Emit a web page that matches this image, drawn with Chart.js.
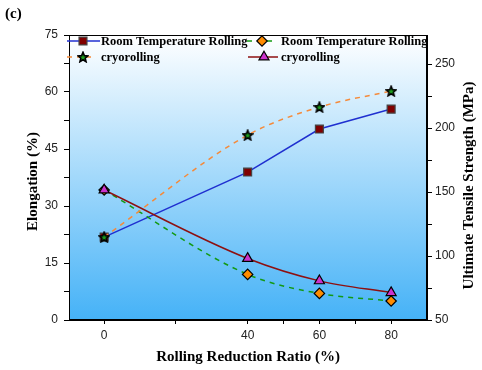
<!DOCTYPE html>
<html><head><meta charset="utf-8">
<script src="https://cdn.jsdelivr.net/npm/chart.js@4/dist/chart.umd.min.js"></script>
<style>html,body{margin:0;padding:0;background:#fff}#wrap{width:482px;height:370px}</style>
</head><body><div id="wrap"><canvas id="c" width="482" height="370"></canvas></div>
<script>
const reductionRatio = [0, 40, 60, 80];
const utsRoomTemp = [114.8, 165.6, 199.2, 214.8];
const elongRoomTemp = [34.2, 12.0, 7.0, 5.0];
const utsCryo = [114.8, 194.5, 216.4, 228.9];
const elongCryo = [34.2, 16.2, 10.3, 7.2];
const xTicks = [0, 20, 40, 50, 60, 70, 80];
const xLabelled = [0, 40, 60, 80];
const leftTicks = [0, 15, 30, 45, 60, 75];
const rightTicks = [50, 100, 150, 200, 250];
const seriesNames = ['Room Temperature Rolling', 'Room Temperature Rolling', 'cryorolling', 'cryorolling'];

function starImg() {
  const c = document.createElement('canvas');
  c.width = 12; c.height = 12;
  const g = c.getContext('2d');
  g.beginPath();
  for (let i = 0; i < 10; i++) {
    const r = i % 2 === 0 ? 5.2 : 2.3;
    const a = -Math.PI / 2 + i * Math.PI / 5;
    const px = 6 + r * Math.cos(a), py = 6.5 + r * Math.sin(a);
    i === 0 ? g.moveTo(px, py) : g.lineTo(px, py);
  }
  g.closePath();
  g.fillStyle = '#1ea01e';
  g.fill();
  g.lineWidth = 1.6;
  g.lineJoin = 'miter';
  g.strokeStyle = '#000';
  g.stroke();
  return c;
}
const star = starImg();

const pts = a => reductionRatio.map((x, i) => ({x: x, y: a[i]}));

const datasets = [
  {label: seriesNames[0], data: pts(utsRoomTemp), yAxisID: 'yR', order: 3, borderColor: '#1f2fd0', borderWidth: 1.5, tension: 0,
   pointStyle: 'rect', pointRadius: 5.6, pointBackgroundColor: '#800000', pointBorderColor: '#444', pointBorderWidth: 1.2},
  {label: seriesNames[1], data: pts(elongRoomTemp), yAxisID: 'yL', order: 2, borderColor: '#139a13', borderWidth: 1.5, borderDash: [5, 5], cubicInterpolationMode: 'monotone',
   pointStyle: 'rectRot', pointRadius: 5.2, pointBackgroundColor: '#ff8c00', pointBorderColor: '#000', pointBorderWidth: 1.2},
  {label: seriesNames[2], data: pts(utsCryo), yAxisID: 'yR', order: 1, borderColor: '#f58a3a', borderWidth: 1.5, borderDash: [5, 5], cubicInterpolationMode: 'monotone',
   pointStyle: star, pointRadius: 5, pointBackgroundColor: '#1ea01e', pointBorderColor: '#000', pointBorderWidth: 1},
  {label: seriesNames[3], data: pts(elongCryo), yAxisID: 'yL', order: 0, borderColor: '#8e1010', borderWidth: 1.5, cubicInterpolationMode: 'monotone',
   pointStyle: 'triangle', pointRadius: 5.8, pointBackgroundColor: '#cc33cc', pointBorderColor: '#000', pointBorderWidth: 1.2}
];

const tickFont = {family: "'Liberation Sans', Arial, sans-serif", size: 12};

const deco = {
  id: 'deco',
  beforeDatasetsDraw(chart) {
    const {ctx, chartArea: a} = chart;
    ctx.save();
    const g = ctx.createLinearGradient(0, a.top, 0, a.bottom);
    g.addColorStop(0, '#ffffff');
    g.addColorStop(1, '#45b2f7');
    ctx.fillStyle = g;
    ctx.fillRect(a.left, a.top, a.right - a.left, a.bottom - a.top);
    ctx.strokeStyle = '#000';
    ctx.lineWidth = 1;
    ctx.strokeRect(a.left + 0.5, a.top + 0.5, a.right - a.left - 1, a.bottom - a.top - 1);
    ctx.restore();
  },
  afterDraw(chart) {
    const {ctx, chartArea: a} = chart;
    ctx.save();
    ctx.fillStyle = '#000';
    ctx.font = "bold 15px 'Liberation Serif', 'Times New Roman', serif";
    ctx.textAlign = 'left'; ctx.textBaseline = 'alphabetic';
    ctx.fillText('(c)', 5, 18);
    ctx.textAlign = 'center'; ctx.textBaseline = 'middle';
    ctx.fillText('Rolling Reduction Ratio (%)', (a.left + a.right) / 2, 357);
    ctx.save();
    ctx.translate(33, (a.top + a.bottom) / 2 + 4);
    ctx.rotate(-Math.PI / 2);
    ctx.fillText('Elongation (%)', 0, 0);
    ctx.restore();
    ctx.save();
    ctx.translate(469, (a.top + a.bottom) / 2 + 8);
    ctx.rotate(-Math.PI / 2);
    ctx.fillText('Ultimate Tensile Strength (MPa)', 0, 0);
    ctx.restore();
    // legend
    const ds = chart.data.datasets;
    const entries = [
      {d: 0, x0: 67, x1: 100, mx: 83, tx: 101, y: 41},
      {d: 1, x0: 247, x1: 276, mx: 262, tx: 281, y: 41},
      {d: 2, x0: 67, x1: 91, mx: 83, tx: 101, y: 57},
      {d: 3, x0: 248, x1: 278, mx: 264, tx: 281, y: 57}
    ];
    entries.forEach(e => {
      const d = ds[e.d];
      ctx.save();
      ctx.strokeStyle = d.borderColor;
      ctx.lineWidth = 1.5;
      ctx.setLineDash(d.borderDash || []);
      ctx.beginPath(); ctx.moveTo(e.x0, e.y); ctx.lineTo(e.x1, e.y); ctx.stroke();
      ctx.setLineDash([]);
      ctx.fillStyle = d.pointBackgroundColor;
      ctx.strokeStyle = d.pointBorderColor;
      ctx.lineWidth = d.pointBorderWidth;
      Chart.helpers.drawPoint(ctx, {pointStyle: d.pointStyle, radius: d.pointRadius, rotation: 0, borderWidth: d.pointBorderWidth}, e.mx, e.y);
      ctx.restore();
      ctx.fillStyle = '#000';
      ctx.font = "bold 12.5px 'Liberation Serif', 'Times New Roman', serif";
      ctx.textAlign = 'left'; ctx.textBaseline = 'middle';
      ctx.fillText(d.label, e.tx, e.y + 1);
    });
    ctx.restore();
  }
};

new Chart(document.getElementById('c'), {
  type: 'line',
  data: {datasets: datasets},
  options: {
    responsive: false,
    animation: false,
    events: [],
    layout: {padding: {top: 35, left: 0, right: 0, bottom: 0}},
    plugins: {legend: {display: false}, tooltip: {enabled: false}},
    scales: {
      x: {
        type: 'linear', min: -9.8, max: 90,
        afterBuildTicks: s => { s.ticks = xTicks.map(v => ({value: v})); },
        afterFit: s => { s.height = 50; },
        border: {display: true, color: '#000', width: 1},
        grid: {drawOnChartArea: false, color: '#000', tickLength: 4},
        ticks: {color: '#222', font: tickFont, padding: 4, maxRotation: 0, autoSkip: false,
          callback: v => xLabelled.includes(v) ? String(v) : ''}
      },
      yL: {
        type: 'linear', position: 'left', min: 0, max: 75,
        afterBuildTicks: s => { const t = []; for (let v = 0; v <= 75; v += 7.5) t.push({value: v}); s.ticks = t; },
        afterFit: s => { s.width = 69; },
        border: {display: true, color: '#000', width: 1},
        grid: {drawOnChartArea: false, color: '#000', tickLength: 5},
        ticks: {color: '#222', font: tickFont, padding: 6, autoSkip: false,
          callback: v => leftTicks.includes(v) ? String(v) : ''}
      },
      yR: {
        type: 'linear', position: 'right', min: 50, max: 272.7,
        afterBuildTicks: s => { const t = []; for (let v = 50; v <= 250; v += 25) t.push({value: v}); s.ticks = t; },
        afterFit: s => { s.width = 55; },
        border: {display: true, color: '#000', width: 1},
        grid: {drawOnChartArea: false, color: '#000', tickLength: 5},
        ticks: {color: '#222', font: tickFont, padding: 3, autoSkip: false,
          callback: v => rightTicks.includes(v) ? String(v) : ''}
      }
    }
  },
  plugins: [deco]
});
</script>
</body></html>
